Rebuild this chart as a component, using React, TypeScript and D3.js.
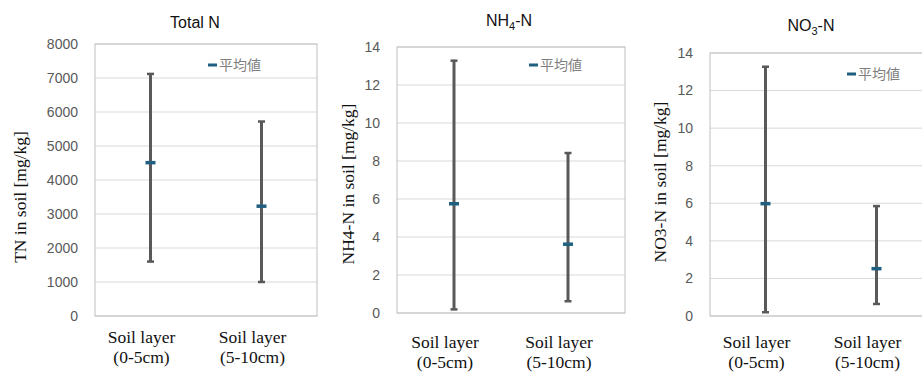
import React from 'react';
import * as d3 from 'd3';

// data
const categories = ['Soil layer (0-5cm)', 'Soil layer (5-10cm)'];
const catLines = [['Soil layer', '(0-5cm)'], ['Soil layer', '(5-10cm)']];

const tnMean = [4510, 3230];
const tnMin = [1600, 1000];
const tnMax = [7120, 5720];
const tnTicks = [0, 1000, 2000, 3000, 4000, 5000, 6000, 7000, 8000];

const nh4Mean = [5.75, 3.62];
const nh4Min = [0.19, 0.62];
const nh4Max = [13.28, 8.42];

const no3Mean = [5.98, 2.52];
const no3Min = [0.2, 0.64];
const no3Max = [13.27, 5.85];

const nTicks = [0, 2, 4, 6, 8, 10, 12, 14];

const legendLabel = '平均値';

type PanelProps = {
  title: [string, string, string]; // main, subscript, rest
  yTitle: string;
  mean: number[];
  min: number[];
  max: number[];
  ticks: number[];
  box: { left: number; right: number; top: number; bottom: number };
  titlePos: [number, number];
  yTitlePos: [number, number];
  legendPos: [number, number];
  labelY: number;
};

const SANS = '"Liberation Sans", Arial, sans-serif';
const SERIF = '"Liberation Serif", "Times New Roman", serif';

const Panel: React.FC<PanelProps> = (p) => {
  const { left, right, top, bottom } = p.box;
  const x = d3.scaleBand<string>().domain(categories).range([left, right]);
  const y = d3.scaleLinear()
    .domain([0, d3.max(p.ticks) as number])
    .range([bottom, top]);
  const cx = (c: string) => (x(c) as number) + x.bandwidth() / 2;

  return (
    <g>
      {/* gridlines */}
      {p.ticks.map(t => (
        <line key={'g' + t} x1={left} x2={right} y1={y(t)} y2={y(t)}
          stroke="#d9d9d9" strokeWidth={1} />
      ))}
      <rect x={left} y={top} width={right - left} height={bottom - top}
        fill="none" stroke="#bfbfbf" strokeWidth={1} />
      {/* tick labels */}
      {p.ticks.map(t => (
        <text key={'t' + t} x={left - 17} y={y(t)} dy="0.35em" textAnchor="end"
          fontFamily={SANS} fontSize={14} fill="#595959">{t}</text>
      ))}
      {/* error bars */}
      {categories.map((c, i) => {
        const xc = cx(c);
        return (
          <g key={c}>
            <line x1={xc} x2={xc} y1={y(p.min[i])} y2={y(p.max[i])}
              stroke="#595959" strokeWidth={3} />
            <line x1={xc - 3.5} x2={xc + 3.5} y1={y(p.min[i])} y2={y(p.min[i])}
              stroke="#595959" strokeWidth={2.5} />
            <line x1={xc - 3.5} x2={xc + 3.5} y1={y(p.max[i])} y2={y(p.max[i])}
              stroke="#595959" strokeWidth={2.5} />
            <line x1={xc - 5} x2={xc + 5} y1={y(p.mean[i])} y2={y(p.mean[i])}
              stroke="#1f5f80" strokeWidth={3.5} />
          </g>
        );
      })}
      {/* category labels */}
      {categories.map((c, i) => (
        <text key={'c' + c} x={cx(c) - 9} y={p.labelY} textAnchor="middle"
          fontFamily={SERIF} fontSize={17.5} fill="#111">
          <tspan x={cx(c) - 9}>{catLines[i][0]}</tspan>
          <tspan x={cx(c) - 9} dy={20}>{catLines[i][1]}</tspan>
        </text>
      ))}
      {/* title */}
      <text x={p.titlePos[0]} y={p.titlePos[1]} textAnchor="middle"
        fontFamily={SANS} fontSize={16} fill="#111">
        {p.title[0]}
        {p.title[1] && <tspan fontSize={11} dy={4}>{p.title[1]}</tspan>}
        {p.title[1] ? <tspan dy={-4}>{p.title[2]}</tspan> : p.title[2]}
      </text>
      {/* y title */}
      <text transform={`translate(${p.yTitlePos[0]},${p.yTitlePos[1]}) rotate(-90)`}
        textAnchor="middle" dy="0.35em" fontFamily={SERIF} fontSize={17.5} fill="#111">
        {p.yTitle}
      </text>
      {/* legend */}
      <line x1={p.legendPos[0]} x2={p.legendPos[0] + 9} y1={p.legendPos[1]} y2={p.legendPos[1]}
        stroke="#1f5f80" strokeWidth={3} />
      <text x={p.legendPos[0] + 11} y={p.legendPos[1]} dy="0.36em"
        fontFamily='"Noto Sans CJK JP", sans-serif' fontSize={14} fill="#7f7f7f">
        {legendLabel}
      </text>
    </g>
  );
};

const App: React.FC = () => (
  <svg width={922} height={372} style={{ position: 'absolute', left: 0, top: 0, background: '#fff' }}>
    <rect width={922} height={372} fill="#fff" />
    <Panel title={['Total N', '', '']} yTitle="TN in soil [mg/kg]"
      mean={tnMean} min={tnMin} max={tnMax} ticks={tnTicks}
      box={{ left: 95, right: 317, top: 44, bottom: 316 }}
      titlePos={[195, 28]} yTitlePos={[20, 197]} legendPos={[208, 65]} labelY={343} />
    <Panel title={['NH', '4', '-N']} yTitle="NH4-N in soil [mg/kg]"
      mean={nh4Mean} min={nh4Min} max={nh4Max} ticks={nTicks}
      box={{ left: 397, right: 625, top: 47, bottom: 313 }}
      titlePos={[509, 26]} yTitlePos={[348, 184]} legendPos={[529, 65]} labelY={348} />
    <Panel title={['NO', '3', '-N']} yTitle="NO3-N in soil [mg/kg]"
      mean={no3Mean} min={no3Min} max={no3Max} ticks={nTicks}
      box={{ left: 710, right: 932, top: 53, bottom: 316 }}
      titlePos={[811, 31]} yTitlePos={[660, 182]} legendPos={[847, 74]} labelY={348} />
  </svg>
);

export default App;
